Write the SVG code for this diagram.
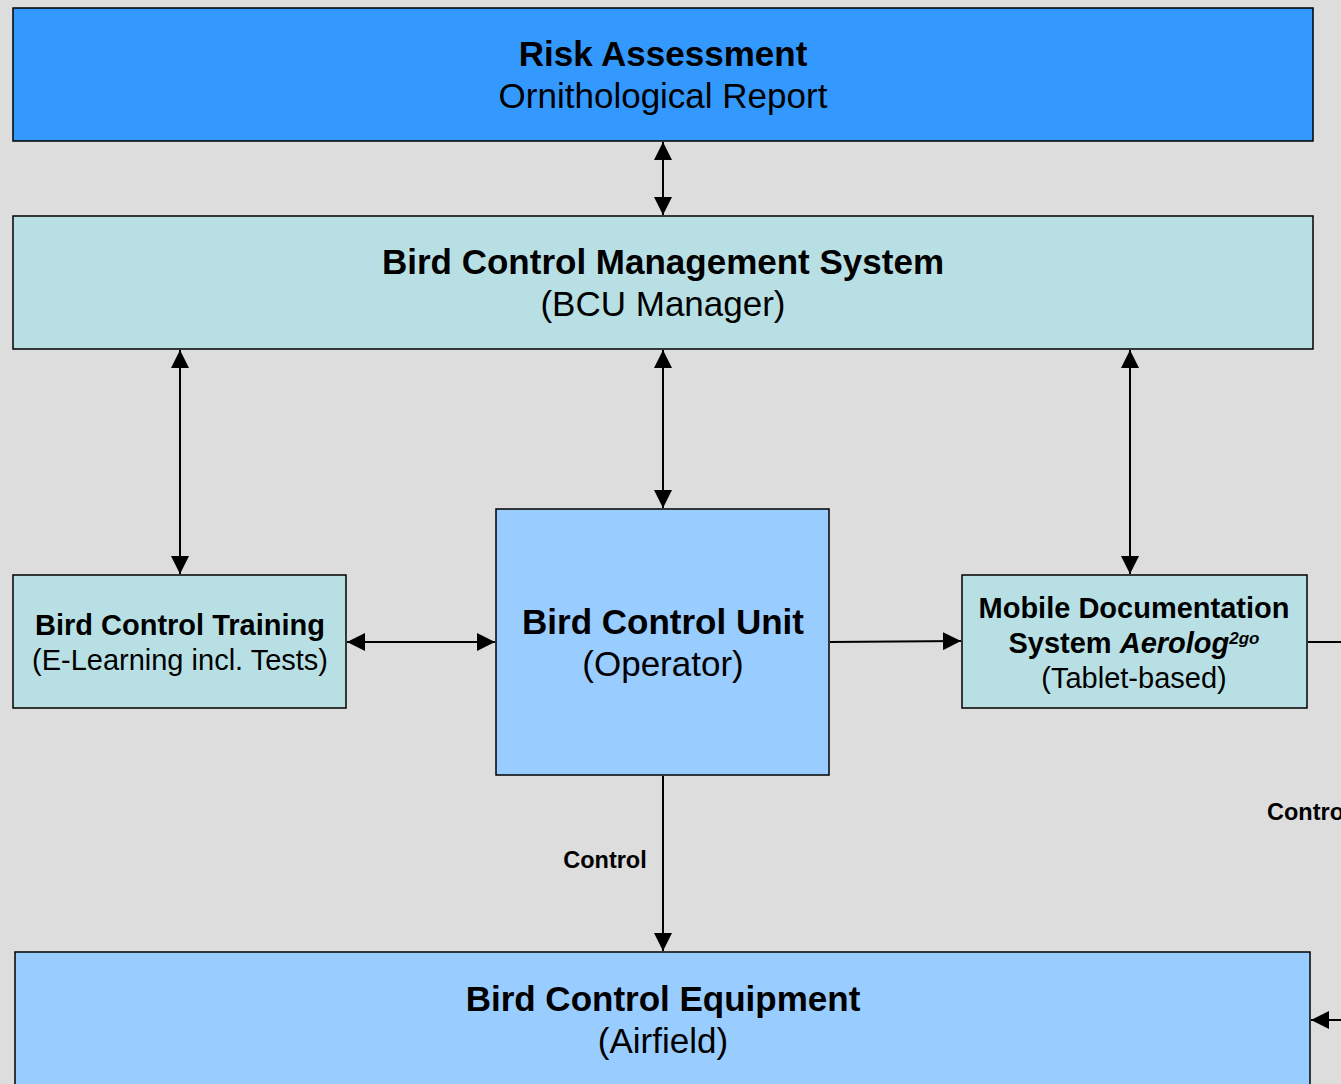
<svg xmlns="http://www.w3.org/2000/svg" width="1341" height="1084" viewBox="0 0 1341 1084">
<defs>
<marker id="ah" viewBox="0 0 10 10" refX="10" refY="5" markerWidth="18" markerHeight="18" markerUnits="userSpaceOnUse" orient="auto-start-reverse">
<path d="M0,0 L10,5 L0,10 z" fill="#000"/>
</marker>
<style>
.box{stroke:#000;stroke-width:1.5}
.t{font-family:"Liberation Sans",Arial,sans-serif;text-anchor:middle;fill:#000}
.b{font-weight:bold}
.c{stroke:#000;stroke-width:2;fill:none}
</style>
</defs>
<rect width="1341" height="1084" fill="#DDDDDD"/>
<g id="risk">
<rect class="box" x="13" y="8" width="1300" height="133" fill="#3399FF"/>
<text class="t b" x="663" y="66" font-size="35">Risk Assessment</text>
<text class="t" x="663" y="108" font-size="35">Ornithological Report</text>
</g>
<g id="bcms">
<rect class="box" x="13" y="216" width="1300" height="133" fill="#B8E0E4"/>
<text class="t b" x="663" y="274" font-size="35">Bird Control Management System</text>
<text class="t" x="663" y="316" font-size="35">(BCU Manager)</text>
</g>
<g id="training">
<rect class="box" x="13" y="575" width="333" height="133" fill="#B8E0E4"/>
<text class="t b" x="180" y="635" font-size="29">Bird Control Training</text>
<text class="t" x="180" y="670" font-size="29">(E-Learning incl. Tests)</text>
</g>
<g id="bcu">
<rect class="box" x="496" y="509" width="333" height="266" fill="#99CCFF"/>
<text class="t b" x="663" y="634" font-size="35">Bird Control Unit</text>
<text class="t" x="663" y="676" font-size="35">(Operator)</text>
</g>
<g id="mobile">
<rect class="box" x="962" y="575" width="345" height="133" fill="#B8E0E4"/>
<text class="t b" x="1134" y="618" font-size="29">Mobile Documentation</text>
<text class="t b" x="1134" y="653" font-size="29">System <tspan font-style="italic">Aerolog<tspan font-size="17" dy="-9">2go</tspan></tspan></text>
<text class="t" x="1134" y="688" font-size="29">(Tablet-based)</text>
</g>
<g id="equipment">
<rect class="box" x="15" y="952" width="1295" height="140" fill="#99CCFF"/>
<text class="t b" x="663" y="1011" font-size="35">Bird Control Equipment</text>
<text class="t" x="663" y="1053" font-size="35">(Airfield)</text>
</g>
<g id="connectors">
<line class="c" x1="663" y1="142" x2="663" y2="215" marker-start="url(#ah)" marker-end="url(#ah)"/>
<line class="c" x1="180" y1="350" x2="180" y2="574" marker-start="url(#ah)" marker-end="url(#ah)"/>
<line class="c" x1="663" y1="350" x2="663" y2="508" marker-start="url(#ah)" marker-end="url(#ah)"/>
<line class="c" x1="1130" y1="350" x2="1130" y2="574" marker-start="url(#ah)" marker-end="url(#ah)"/>
<line class="c" x1="347" y1="642" x2="495" y2="642" marker-start="url(#ah)" marker-end="url(#ah)"/>
<line class="c" x1="830" y1="642" x2="961" y2="641" marker-end="url(#ah)"/>
<line class="c" x1="1308" y1="642" x2="1341" y2="642"/>
<line class="c" x1="663" y1="776" x2="663" y2="951" marker-end="url(#ah)"/>
<line class="c" x1="1341" y1="1020" x2="1311" y2="1020" marker-end="url(#ah)"/>
<text class="t b" x="605" y="868" font-size="23.5">Control</text>
<text class="t b" x="1267" y="820" font-size="23.5" style="text-anchor:start">Control</text>
</g>
</svg>
